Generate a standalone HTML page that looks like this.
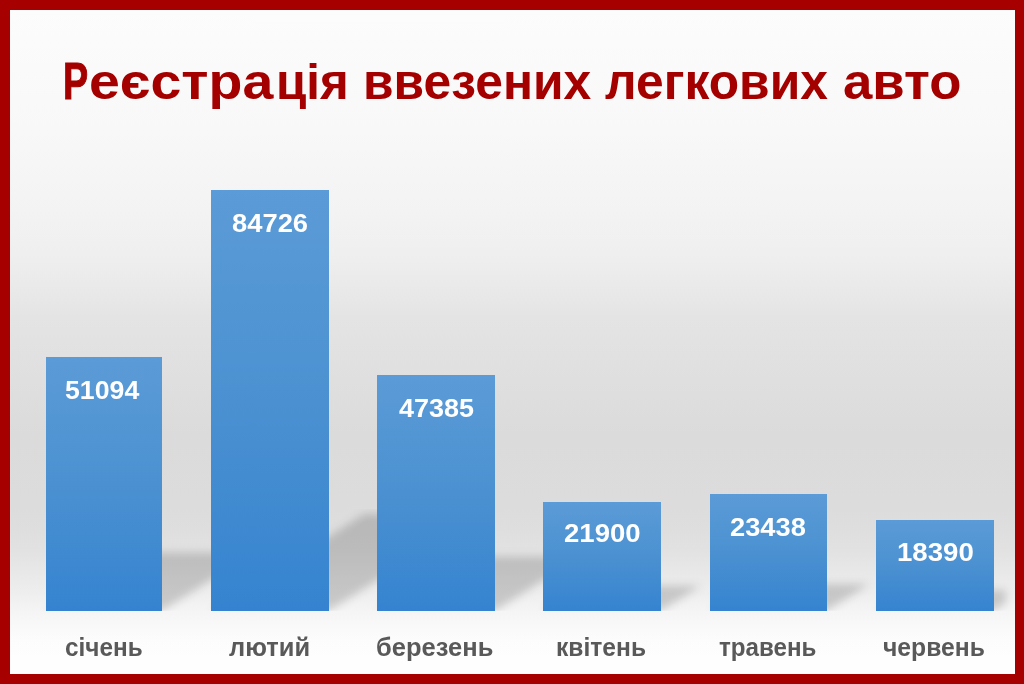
<!DOCTYPE html>
<html lang="uk"><head><meta charset="utf-8"><title>Реєстрація ввезених легкових авто</title>
<style>
html,body,h1{margin:0;padding:0}
h1{font-size:50px;font-weight:bold}
body{width:1024px;height:684px;overflow:hidden;background:#a60000;font-family:"Liberation Sans","DejaVu Sans",sans-serif;font-weight:bold}
#frame{position:absolute;left:10px;top:10px;width:1005px;height:664px;overflow:hidden;background:linear-gradient(to bottom,#fcfcfc 0px,#f8f8f8 120px,#f3f3f3 200px,#efefef 244px,#e9e9e9 280px,#e4e4e4 308px,#e1e1e1 344px,#dbdbdb 424px,#dcdcdc 495px,#dedede 518px,#e2e2e2 541px,#e8e8e8 562px,#eeeeee 583px,#f5f5f5 602px,#f9f9f9 616px,#fcfcfc 630px,#fefefe 648px,#fefefe 664px)}
#shadows{position:absolute;left:0;top:0}
.bar{position:absolute;background:linear-gradient(to bottom,#5b9bd7 0%,#4b91d1 50%,#3583d0 100%)}
.val{position:absolute;color:#fff;font-size:25.5px;line-height:1;white-space:nowrap;transform-origin:0 0}
.lab{position:absolute;color:#595959;font-size:26px;line-height:1;white-space:nowrap;transform-origin:0 0}
.t{position:absolute;color:#a50000;font-size:50px;line-height:1;white-space:nowrap;transform-origin:0 0}
</style></head><body>
<div id="frame">

<h1><span class="t" id="t0" style="font-size:51px;-webkit-text-stroke:1px #a50000;left:52.71px;top:45.80px;transform:scaleX(0.7397)">Р</span><span class="t" id="t1" style="left:79.08px;top:46.60px;transform:scaleX(1.1098)">еєстра</span><span class="t" id="t2" style="left:266.28px;top:46.60px;transform:scaleX(0.9844)">ція</span> <span class="t" id="t3" style="left:353.02px;top:46.60px;transform:scaleX(0.9947)">ввезених</span> <span class="t" id="t4" style="left:595.00px;top:46.60px;transform:scaleX(0.9955)">легкових</span> <span class="t" id="t5" style="left:832.94px;top:46.60px;transform:scaleX(1.0546)">авто</span></h1>
<svg id="shadows" width="1005" height="664" viewBox="10 10 1005 664"><defs><filter id="bl" x="-5%" y="-5%" width="110%" height="110%" filterUnits="objectBoundingBox"><feGaussianBlur stdDeviation="4"/></filter><clipPath id="cp"><rect x="0" y="0" width="1024" height="610.7"/></clipPath><clipPath id="cq"><rect x="0" y="0" width="1006" height="700"/></clipPath></defs><g clip-path="url(#cp)"><g filter="url(#bl)"><g clip-path="url(#cq)" fill="#000" fill-opacity="0.17">
<polygon points="45.7,610.7 162.2,610.7 254.5,552.4 138.0,552.4"/>
<polygon points="211.3,610.7 329.2,610.7 482.2,514.0 364.3,514.0"/>
<polygon points="377.0,610.7 495.2,610.7 581.0,556.5 462.8,556.5"/>
<polygon points="542.5,610.7 661.2,610.7 700.8,585.7 582.1,585.7"/>
<polygon points="710.3,610.7 826.9,610.7 869.4,583.9 752.8,583.9"/>
<polygon points="875.6,610.7 994.0,610.7 1026.9,589.9 908.5,589.9"/>
</g></g></g></svg>
<div class="bar" style="left:35.7px;top:347.2px;width:116.5px;height:253.5px"></div>
<div class="val" id="v0" style="left:55.10px;top:367.80px;transform:scaleX(1.0473)">51094</div>
<div class="lab" id="l0" style="left:55.28px;top:624.30px;transform:scaleX(0.9365)">січень</div>
<div class="bar" style="left:201.3px;top:180.3px;width:117.9px;height:420.4px"></div>
<div class="val" id="v1" style="left:222.46px;top:200.60px;transform:scaleX(1.0726)">84726</div>
<div class="lab" id="l1" style="left:218.50px;top:624.30px;transform:scaleX(0.9798)">лютий</div>
<div class="bar" style="left:367.0px;top:365.1px;width:118.2px;height:235.6px"></div>
<div class="val" id="v2" style="left:388.74px;top:386.00px;transform:scaleX(1.0573)">47385</div>
<div class="lab" id="l2" style="left:366.13px;top:624.30px;transform:scaleX(0.9810)">березень</div>
<div class="bar" style="left:532.5px;top:491.9px;width:118.7px;height:108.8px"></div>
<div class="val" id="v3" style="left:553.92px;top:510.80px;transform:scaleX(1.0798)">21900</div>
<div class="lab" id="l3" style="left:546.35px;top:624.30px;transform:scaleX(0.9466)">квітень</div>
<div class="bar" style="left:700.3px;top:484.0px;width:116.6px;height:116.7px"></div>
<div class="val" id="v4" style="left:719.93px;top:504.60px;transform:scaleX(1.0689)">23438</div>
<div class="lab" id="l4" style="left:709.33px;top:624.30px;transform:scaleX(0.9293)">травень</div>
<div class="bar" style="left:865.6px;top:510.2px;width:118.4px;height:90.5px"></div>
<div class="val" id="v5" style="left:887.10px;top:529.80px;transform:scaleX(1.0826)">18390</div>
<div class="lab" id="l5" style="left:872.86px;top:624.30px;transform:scaleX(0.9504)">червень</div>
</div></body></html>
